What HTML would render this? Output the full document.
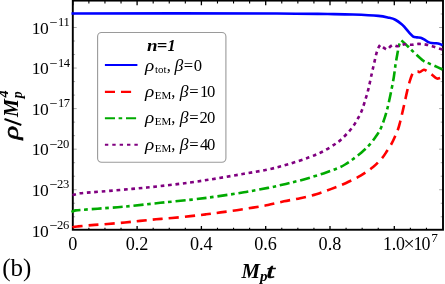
<!DOCTYPE html><html><head><meta charset="utf-8"><style>html,body{margin:0;padding:0;background:#fff;overflow:hidden}body{width:445px;height:284px;position:relative}</style></head><body><svg width="445" height="284" viewBox="0 0 445 284" style="position:absolute;left:0;top:0;will-change:transform" font-family="Liberation Serif, serif" fill="#000">
<rect width="445" height="284" fill="#fff"/>
<clipPath id="c"><rect x="72.8" y="0.6" width="370.2" height="229.15"/></clipPath>
<path d="M72.80,229.75v-3.8M72.80,0.6v4.7" stroke="#000" stroke-width="1.3"/>
<path d="M88.88,229.75v-2.0M88.88,0.6v2.9" stroke="#000" stroke-width="1.1"/>
<path d="M104.95,229.75v-2.0M104.95,0.6v2.9" stroke="#000" stroke-width="1.1"/>
<path d="M121.03,229.75v-2.0M121.03,0.6v2.9" stroke="#000" stroke-width="1.1"/>
<path d="M137.10,229.75v-3.8M137.10,0.6v4.7" stroke="#000" stroke-width="1.3"/>
<path d="M153.18,229.75v-2.0M153.18,0.6v2.9" stroke="#000" stroke-width="1.1"/>
<path d="M169.25,229.75v-2.0M169.25,0.6v2.9" stroke="#000" stroke-width="1.1"/>
<path d="M185.32,229.75v-2.0M185.32,0.6v2.9" stroke="#000" stroke-width="1.1"/>
<path d="M201.40,229.75v-3.8M201.40,0.6v4.7" stroke="#000" stroke-width="1.3"/>
<path d="M217.48,229.75v-2.0M217.48,0.6v2.9" stroke="#000" stroke-width="1.1"/>
<path d="M233.55,229.75v-2.0M233.55,0.6v2.9" stroke="#000" stroke-width="1.1"/>
<path d="M249.62,229.75v-2.0M249.62,0.6v2.9" stroke="#000" stroke-width="1.1"/>
<path d="M265.70,229.75v-3.8M265.70,0.6v4.7" stroke="#000" stroke-width="1.3"/>
<path d="M281.77,229.75v-2.0M281.77,0.6v2.9" stroke="#000" stroke-width="1.1"/>
<path d="M297.85,229.75v-2.0M297.85,0.6v2.9" stroke="#000" stroke-width="1.1"/>
<path d="M313.93,229.75v-2.0M313.93,0.6v2.9" stroke="#000" stroke-width="1.1"/>
<path d="M330.00,229.75v-3.8M330.00,0.6v4.7" stroke="#000" stroke-width="1.3"/>
<path d="M346.08,229.75v-2.0M346.08,0.6v2.9" stroke="#000" stroke-width="1.1"/>
<path d="M362.15,229.75v-2.0M362.15,0.6v2.9" stroke="#000" stroke-width="1.1"/>
<path d="M378.23,229.75v-2.0M378.23,0.6v2.9" stroke="#000" stroke-width="1.1"/>
<path d="M394.30,229.75v-3.8M394.30,0.6v4.7" stroke="#000" stroke-width="1.3"/>
<path d="M410.38,229.75v-2.0M410.38,0.6v2.9" stroke="#000" stroke-width="1.1"/>
<path d="M426.45,229.75v-2.0M426.45,0.6v2.9" stroke="#000" stroke-width="1.1"/>
<path d="M72.8,216.78h2.3M443.0,216.78h-2.3" stroke="#555" stroke-width="0.5"/>
<path d="M72.8,203.26h2.3M443.0,203.26h-2.3" stroke="#555" stroke-width="0.5"/>
<path d="M72.8,189.74h3.9M443.0,189.74h-3.9" stroke="#555" stroke-width="0.5"/>
<path d="M72.8,176.22h2.3M443.0,176.22h-2.3" stroke="#555" stroke-width="0.5"/>
<path d="M72.8,162.70h2.3M443.0,162.70h-2.3" stroke="#555" stroke-width="0.5"/>
<path d="M72.8,149.18h3.9M443.0,149.18h-3.9" stroke="#555" stroke-width="0.5"/>
<path d="M72.8,135.66h2.3M443.0,135.66h-2.3" stroke="#555" stroke-width="0.5"/>
<path d="M72.8,122.14h2.3M443.0,122.14h-2.3" stroke="#555" stroke-width="0.5"/>
<path d="M72.8,108.62h3.9M443.0,108.62h-3.9" stroke="#555" stroke-width="0.5"/>
<path d="M72.8,95.10h2.3M443.0,95.10h-2.3" stroke="#555" stroke-width="0.5"/>
<path d="M72.8,81.58h2.3M443.0,81.58h-2.3" stroke="#555" stroke-width="0.5"/>
<path d="M72.8,68.06h3.9M443.0,68.06h-3.9" stroke="#555" stroke-width="0.5"/>
<path d="M72.8,54.54h2.3M443.0,54.54h-2.3" stroke="#555" stroke-width="0.5"/>
<path d="M72.8,41.02h2.3M443.0,41.02h-2.3" stroke="#555" stroke-width="0.5"/>
<path d="M72.8,27.50h3.9M443.0,27.50h-3.9" stroke="#555" stroke-width="0.5"/>
<path d="M72.8,13.98h2.3M443.0,13.98h-2.3" stroke="#555" stroke-width="0.5"/>
<rect x="72.8" y="0.6" width="370.2" height="229.15" fill="none" stroke="#000" stroke-width="1.9"/>
<g fill="none" stroke-width="2.6" stroke-linejoin="round">
<path d="M71.50,13.45C105.75,13.45 234.30,13.35 277.00,13.45C300.05,13.50 315.03,13.87 327.70,14.05C339.20,14.22 344.55,14.25 353.00,14.55C361.45,14.85 372.40,15.32 378.40,15.85C383.28,16.28 386.18,17.10 389.00,17.75C391.82,18.40 393.18,18.68 395.30,19.75C397.42,20.82 400.08,22.85 401.70,24.15C403.32,25.45 403.68,26.07 405.00,27.55C406.32,29.03 408.23,31.55 409.60,33.05C410.97,34.55 411.98,35.83 413.20,36.55C414.42,37.27 415.67,37.17 416.90,37.35C418.13,37.53 419.38,37.30 420.60,37.65C421.82,38.00 422.98,38.75 424.20,39.45C425.42,40.15 426.68,41.25 427.90,41.85C429.12,42.45 430.13,42.82 431.50,43.05C432.87,43.28 434.72,43.10 436.10,43.25C437.48,43.40 438.73,43.62 439.80,43.95C440.87,44.28 442.05,45.03 442.50,45.25" stroke="#0000ff"/>
<path d="M71.50,228.00C71.85,227.83 72.57,227.25 73.60,227.00C74.68,226.73 75.99,226.61 78.00,226.40C81.02,226.08 86.77,225.50 91.70,225.10C96.63,224.70 102.07,224.43 107.60,224.00C113.13,223.57 119.48,223.02 124.90,222.50C130.32,221.98 134.92,221.44 140.10,220.90C145.28,220.37 150.70,219.77 156.00,219.29C161.30,218.81 166.15,218.51 171.90,217.99C177.65,217.47 184.78,216.78 190.50,216.16C196.22,215.54 201.20,214.93 206.20,214.30C211.20,213.67 215.40,213.08 220.50,212.40C225.60,211.72 231.40,211.00 236.80,210.20C242.20,209.40 247.70,208.47 252.90,207.60C258.10,206.73 262.82,206.05 268.00,205.00C273.18,203.95 278.63,202.43 284.00,201.30C289.37,200.17 294.82,199.38 300.20,198.20C305.58,197.02 311.20,195.72 316.30,194.20C321.40,192.68 325.92,190.93 330.80,189.10C335.68,187.27 340.63,185.45 345.60,183.20C350.57,180.95 356.02,178.30 360.60,175.60C365.18,172.90 369.48,169.97 373.10,167.00C376.72,164.03 379.98,160.47 382.30,157.80C384.62,155.13 385.38,153.48 387.00,151.00C388.62,148.52 390.67,145.33 392.00,142.90C393.33,140.47 393.97,138.75 395.00,136.40C396.03,134.05 397.33,131.25 398.20,128.80C399.07,126.35 399.48,124.50 400.20,121.70C400.92,118.90 401.77,115.15 402.50,112.00C403.23,108.85 403.83,106.23 404.60,102.80C405.37,99.37 406.28,94.87 407.10,91.40C407.92,87.93 408.63,84.92 409.50,82.00C410.37,79.08 411.62,75.52 412.30,73.90C412.66,73.04 413.17,72.83 413.60,72.30C414.87,71.93 416.40,71.23 417.40,71.20C418.40,71.17 418.54,72.33 419.60,72.10C420.67,71.87 422.65,70.00 423.80,69.80C424.95,69.60 425.36,70.22 426.50,70.90C427.78,71.67 429.82,73.15 431.50,74.40C433.18,75.65 435.22,77.80 436.60,78.40C437.94,78.98 438.82,78.27 439.80,78.00C440.78,77.73 442.05,77.00 442.50,76.80" stroke="#ff0000" stroke-dasharray="10.1 6" stroke-dashoffset="14.78"/>
<path d="M71.50,212.00C71.67,211.92 72.02,211.68 72.50,211.50C73.22,211.23 74.23,210.58 75.80,210.40C79.97,209.93 90.52,209.23 97.50,208.70C104.48,208.17 111.93,207.67 117.70,207.20C123.47,206.73 125.56,206.58 132.10,205.90C139.20,205.17 150.30,203.85 160.30,202.80C170.30,201.75 182.65,200.67 192.10,199.60C201.55,198.53 208.37,197.62 217.00,196.40C225.63,195.18 235.40,193.72 243.90,192.30C252.40,190.88 261.02,189.30 268.00,187.90C274.98,186.50 279.83,185.32 285.80,183.90C291.77,182.48 297.52,181.15 303.80,179.40C310.08,177.65 317.82,175.28 323.50,173.40C329.18,171.52 334.30,169.58 337.90,168.10C341.28,166.71 342.67,165.93 345.10,164.50C347.53,163.07 349.72,161.55 352.50,159.50C355.28,157.45 359.02,154.58 361.80,152.20C364.58,149.82 366.97,147.67 369.20,145.20C371.43,142.73 373.65,139.50 375.20,137.40C376.75,135.30 377.47,134.35 378.50,132.60C379.53,130.85 380.48,129.02 381.40,126.90C382.32,124.78 383.18,122.30 384.00,119.90C384.82,117.50 385.55,115.18 386.30,112.50C387.05,109.82 387.67,107.47 388.50,103.80C389.33,100.13 390.42,94.93 391.30,90.50C392.18,86.07 393.10,81.48 393.80,77.20C394.50,72.92 394.98,68.23 395.50,64.80C396.02,61.37 396.50,58.90 396.90,56.60C397.30,54.30 397.52,52.95 397.90,51.00C398.28,49.05 398.62,46.68 399.20,44.90C399.78,43.12 400.67,41.83 401.40,40.30C403.77,42.53 406.58,45.15 408.50,47.00C410.42,48.85 410.83,49.47 412.90,51.40C415.37,53.70 420.62,58.80 423.30,60.80C425.58,62.50 427.17,62.58 429.00,63.40C430.83,64.22 432.05,64.68 434.30,65.70C436.55,66.72 441.13,68.87 442.50,69.50" stroke="#00aa00" stroke-dasharray="10.1 3.6 3.6 3.8" stroke-dashoffset="0.74"/>
<path d="M71.50,195.60C71.67,195.53 72.03,195.33 72.50,195.20C73.93,194.82 76.57,193.75 80.10,193.30C84.98,192.68 93.13,192.23 101.80,191.50C110.47,190.77 122.35,189.80 132.10,188.90C141.85,188.00 150.65,187.17 160.30,186.10C169.95,185.03 180.55,183.78 190.00,182.50C199.45,181.22 208.02,179.85 217.00,178.40C225.98,176.95 235.40,175.28 243.90,173.80C252.40,172.32 260.57,171.10 268.00,169.50C275.43,167.90 281.65,166.23 288.50,164.20C295.35,162.17 303.27,159.47 309.10,157.30C314.93,155.13 319.15,153.42 323.50,151.20C327.85,148.98 332.30,145.92 335.20,144.00C337.91,142.21 338.90,141.47 340.90,139.70C342.90,137.93 345.25,135.50 347.20,133.40C349.15,131.30 350.95,129.35 352.60,127.10C354.25,124.85 355.67,122.42 357.10,119.90C358.53,117.38 359.93,115.00 361.20,112.00C362.47,109.00 363.48,105.80 364.70,101.90C365.92,98.00 367.32,93.35 368.50,88.60C369.68,83.85 370.85,77.67 371.80,73.40C372.75,69.13 373.42,66.37 374.20,63.00C374.98,59.63 375.72,55.90 376.50,53.20C377.28,50.50 378.27,48.17 378.90,46.80C379.34,45.86 379.83,45.60 380.30,45.00C381.90,46.23 383.95,47.97 385.10,48.70C385.95,49.24 386.29,49.83 387.20,49.40C388.20,48.93 390.08,46.63 391.10,45.90C391.98,45.27 392.22,44.95 393.30,45.00C394.45,45.05 396.08,46.32 398.00,46.20C399.92,46.08 402.48,44.53 404.80,44.30C407.12,44.07 409.58,44.87 411.90,44.80C414.22,44.73 416.37,43.93 418.70,43.90C421.03,43.87 423.53,44.18 425.90,44.60C428.27,45.02 430.58,45.72 432.90,46.40C435.22,47.08 438.20,48.17 439.80,48.70C441.03,49.11 442.05,49.45 442.50,49.60" stroke="#800080" stroke-dasharray="3.7 3.7" stroke-dashoffset="6.36"/>
</g>
<rect x="97.6" y="32.5" width="128.3" height="129.7" rx="4" ry="4" fill="#fff" stroke="#9a9a9a" stroke-width="1.1"/>
<g fill="none" stroke-width="2.1">
<path d="M104.9,65H137.4" stroke="#0000ff"/>
<path d="M104.9,91.9H131.1" stroke="#ff0000" stroke-dasharray="10.1 6"/>
<path d="M104.9,118.3H137.4" stroke="#00aa00" stroke-dasharray="10.1 3.6 3.6 3.8"/>
<path d="M104.9,144.8H138" stroke="#800080" stroke-dasharray="3.4 3.97"/>
</g>
<text x="31.82" y="236.60" font-size="17.5">1</text>
<text x="40.00" y="236.60" font-size="17.5">0</text>
<text x="49.19" y="230.00" font-size="14.2">−</text>
<text x="57.12" y="229.00" font-size="12.6" letter-spacing="-0.4">26</text>
<text x="31.82" y="196.04" font-size="17.5">1</text>
<text x="40.00" y="196.04" font-size="17.5">0</text>
<text x="49.19" y="189.44" font-size="14.2">−</text>
<text x="57.12" y="188.44" font-size="12.6" letter-spacing="-0.4">23</text>
<text x="31.82" y="155.48" font-size="17.5">1</text>
<text x="40.00" y="155.48" font-size="17.5">0</text>
<text x="49.19" y="148.88" font-size="14.2">−</text>
<text x="57.12" y="147.88" font-size="12.6" letter-spacing="-0.4">20</text>
<text x="31.82" y="114.92" font-size="17.5">1</text>
<text x="40.00" y="114.92" font-size="17.5">0</text>
<text x="49.19" y="108.32" font-size="14.2">−</text>
<text x="57.97" y="107.32" font-size="12.6" letter-spacing="-0.4">17</text>
<text x="31.82" y="74.36" font-size="17.5">1</text>
<text x="40.00" y="74.36" font-size="17.5">0</text>
<text x="49.19" y="67.76" font-size="14.2">−</text>
<text x="57.97" y="66.76" font-size="12.6" letter-spacing="-0.4">14</text>
<text x="31.82" y="33.80" font-size="17.5">1</text>
<text x="40.00" y="33.80" font-size="17.5">0</text>
<text x="49.19" y="27.20" font-size="14.2">−</text>
<text x="57.97" y="26.20" font-size="12.6" letter-spacing="-0.4">11</text>
<text font-size="18.2" x="72.7" y="249.6" text-anchor="middle">0</text>
<text font-size="18.2" x="137.0" y="249.6" text-anchor="middle">0.2</text>
<text font-size="18.2" x="201.3" y="249.6" text-anchor="middle">0.4</text>
<text font-size="18.2" x="265.6" y="249.6" text-anchor="middle">0.6</text>
<text font-size="18.2" x="329.9" y="249.6" text-anchor="middle">0.8</text>
<text x="382.89" y="249.70" font-size="17.9" letter-spacing="-0.1">1.0</text>
<text x="403.62" y="250.40" font-size="19.8">×</text>
<text x="413.59" y="249.70" font-size="17.9">1</text>
<text x="421.58" y="249.70" font-size="17.9">0</text>
<text x="431.17" y="242.30" font-size="13.3">7</text>
<text x="2.20" y="275.50" font-size="25.0">(b)</text>
<text transform="translate(241.60,277.6) scale(1.03,1)" font-size="20.2" font-style="italic" font-weight="bold">M</text>
<text x="259.95" y="281.40" font-size="15" font-style="italic" font-weight="bold">p</text>
<text transform="translate(266.36,277.7) scale(1.45,1)" font-size="21.4" font-style="italic" stroke="#000" stroke-width="0.6">t</text>
<g transform="translate(17.7,140.2) rotate(-90)"><text transform="translate(0.59,0) scale(1.36,1)" font-size="21" font-style="italic" stroke="#000" stroke-width="0.55">ρ</text><path d="M15.2,3.6L21.2,-13.2" stroke="#000" stroke-width="2.0" fill="none"/><text x="23.10" y="0.00" font-size="20.2" font-style="italic" font-weight="bold">M</text><text x="41.88" y="4.40" font-size="14" font-style="italic" font-weight="bold">p</text><text x="42.75" y="-9.30" font-size="14.5" font-style="italic" font-weight="bold">4</text></g>
<text transform="translate(146.92,51.0) scale(1.15,1)" font-size="16.5" font-style="italic" font-weight="bold">n</text>
<text transform="translate(156.79,51.0) scale(1.12,1)" font-size="16.5" font-style="italic" font-weight="bold">=</text>
<text x="167.38" y="51.00" font-size="16.2" font-style="italic" font-weight="bold">1</text>
<text transform="translate(144.9,71.1) scale(1.16,1)" font-size="16.6" font-style="italic">ρ</text>
<text x="154.99" y="73.00" font-size="11.0">tot</text>
<text x="166.74" y="71.10" font-size="16.6">,</text>
<text transform="translate(174.5,71.1) scale(1.06,1)" font-size="16.6" font-style="italic">β</text>
<text x="183.87" y="71.10" font-size="16.6">=</text>
<text x="193.84" y="71.10" font-size="16.6">0</text>
<text transform="translate(144.9,97.4) scale(1.16,1)" font-size="16.6" font-style="italic">ρ</text>
<text x="154.77" y="99.30" font-size="11.0">EM</text>
<text x="171.14" y="97.40" font-size="16.6">,</text>
<text transform="translate(179.70000000000002,97.4) scale(1.06,1)" font-size="16.6" font-style="italic">β</text>
<text x="189.17" y="97.40" font-size="16.6">=</text>
<text x="200.11" y="97.40" font-size="16.6">1</text>
<text x="206.94" y="97.40" font-size="16.6">0</text>
<text transform="translate(144.9,123.3) scale(1.16,1)" font-size="16.6" font-style="italic">ρ</text>
<text x="154.77" y="125.20" font-size="11.0">EM</text>
<text x="171.14" y="123.30" font-size="16.6">,</text>
<text transform="translate(179.70000000000002,123.3) scale(1.06,1)" font-size="16.6" font-style="italic">β</text>
<text x="189.17" y="123.30" font-size="16.6">=</text>
<text x="199.60" y="123.30" font-size="16.6">2</text>
<text x="206.94" y="123.30" font-size="16.6">0</text>
<text transform="translate(144.9,149.9) scale(1.16,1)" font-size="16.6" font-style="italic">ρ</text>
<text x="154.77" y="151.80" font-size="11.0">EM</text>
<text x="171.14" y="149.90" font-size="16.6">,</text>
<text transform="translate(179.70000000000002,149.9) scale(1.06,1)" font-size="16.6" font-style="italic">β</text>
<text x="189.17" y="149.90" font-size="16.6">=</text>
<text x="199.93" y="149.90" font-size="16.6">4</text>
<text x="206.94" y="149.90" font-size="16.6">0</text>
</svg></body></html>
